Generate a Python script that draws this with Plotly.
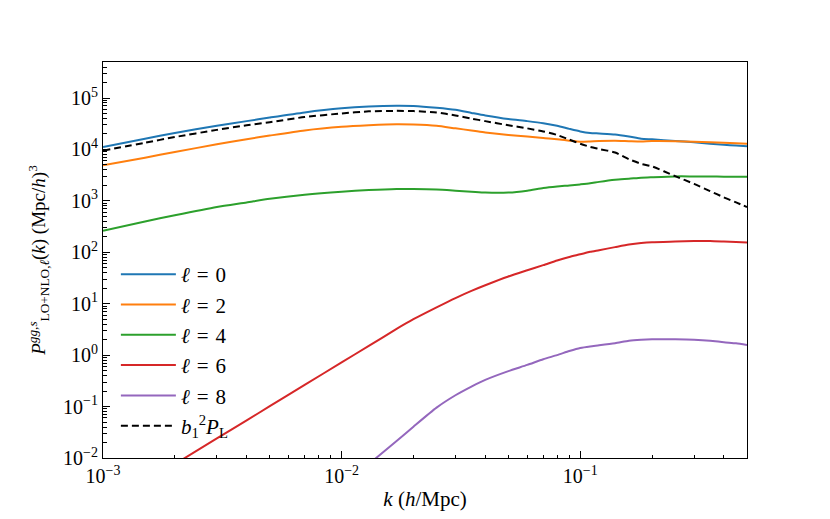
import plotly.graph_objects as go

# k values (h/Mpc)
k = [0.001, 0.0015, 0.002, 0.003, 0.004, 0.005, 0.007, 0.01, 0.013, 0.017,
     0.02, 0.025, 0.03, 0.035, 0.04, 0.05, 0.06, 0.07, 0.08, 0.09,
     0.1, 0.11, 0.12, 0.14, 0.16, 0.18, 0.2, 0.25, 0.3, 0.35,
     0.4, 0.45, 0.5]

# multipoles P_l(k), (Mpc/h)^3
p0 = [11200, 16200, 20900, 28800, 35500, 41700, 52500, 63100, 68400, 70800,
      70000, 64600, 58900, 51300, 45700, 38900, 35500, 32400, 28800, 25100,
      22400, 20900, 20400, 19500, 17800, 16200, 15700, 14600, 13800, 12900,
      12300, 11900, 11500]
p2 = [4900, 6920, 8910, 12600, 15800, 18600, 23400, 27500, 29500, 30900,
      30500, 28800, 25700, 23400, 21400, 19100, 17800, 16600, 15800, 14800,
      14100, 14300, 14600, 14800, 14500, 14300, 14600, 14500, 14100, 13800,
      13500, 13200, 12900]
p4 = [263, 398, 525, 759, 933, 1100, 1320, 1510, 1620, 1700,
      1700, 1660, 1580, 1510, 1450, 1450, 1580, 1780, 1910, 2000,
      2090, 2190, 2340, 2570, 2690, 2820, 2880, 2990, 2990, 2990,
      2950, 2950, 2950]
p6 = [None, None, 0.0076, 0.024, 0.0537, 0.102, 0.263, 0.724, 1.51, 3.24,
      5.0, 8.5, 12.9, 17.8, 22.9, 33.9, 44.7, 56.2, 69.2, 81.3,
      91.2, 102, 110, 126, 141, 151, 157, 162, 166, 166,
      162, 158, 155]
p8 = [None, None, None, None, None, None, None, None, 0.0076, 0.0214,
      0.0407, 0.0955, 0.166, 0.245, 0.331, 0.490, 0.646, 0.832, 1.00, 1.20,
      1.38, 1.48, 1.55, 1.70, 1.91, 2.00, 2.04, 2.04, 2.00, 1.91,
      1.78, 1.70, 1.58]
# linear power spectrum times b1^2
pl = [9440, 13500, 17400, 24000, 29500, 33900, 42700, 50100, 55000, 56200,
      55600, 52500, 45700, 39800, 35500, 29500, 25700, 22400, 19100, 15500,
      12900, 11200, 10200, 8710, 6460, 5250, 4680, 3020, 2140, 1550,
      1170, 933, 759]

series = [
    ("<i>ℓ</i>\u2004=\u20040", p0, "#1f77b4"),
    ("<i>ℓ</i>\u2004=\u20042", p2, "#ff7f0e"),
    ("<i>ℓ</i>\u2004=\u20044", p4, "#2ca02c"),
    ("<i>ℓ</i>\u2004=\u20046", p6, "#d62728"),
    ("<i>ℓ</i>\u2004=\u20048", p8, "#9467bd"),
]

x_ticks = [1e-3, 1e-2, 1e-1]
x_labels = ["10<sup>−3</sup>", "10<sup>−2</sup>", "10<sup>−1</sup>"]
y_ticks = [1e-2, 1e-1, 1e0, 1e1, 1e2, 1e3, 1e4, 1e5]
y_labels = ["10<sup>−2</sup>", "10<sup>−1</sup>", "10<sup>0</sup>", "10<sup>1</sup>",
            "10<sup>2</sup>", "10<sup>3</sup>", "10<sup>4</sup>", "10<sup>5</sup>"]

x_minor = [m * 10.0 ** e for e in (-3, -2, -1) for m in range(2, 10) if m * 10.0 ** e <= 0.5]
y_minor = [m * 10.0 ** e for e in range(-2, 6) for m in range(2, 10) if m * 10.0 ** e <= 5e5]

FONT = "Liberation Serif"

fig = go.Figure()
for name, vals, color in series:
    fig.add_trace(go.Scatter(
        x=k, y=vals, name=name, mode="lines",
        line=dict(color=color, width=2, shape="spline", smoothing=0.6),
    ))
fig.add_trace(go.Scatter(
    x=k, y=pl, name="<i>b</i><sub>1</sub><sup>2</sup><i>P</i><sub>L</sub>", mode="lines",
    line=dict(color="black", width=2, dash="7px,4px", shape="spline", smoothing=0.6),
))

axis_common = dict(
    type="log",
    showline=True, linecolor="black", linewidth=1, mirror=True,
    ticks="inside", ticklen=7, tickwidth=1, tickcolor="black",
    showgrid=False, zeroline=False,
    tickfont=dict(family=FONT, size=20, color="black"),
)
minor_common = dict(ticks="inside", ticklen=3.5, tickwidth=1, tickcolor="black", showgrid=False)

fig.update_xaxes(
    **axis_common,
    range=[-3, -0.301],
    tickvals=x_ticks, ticktext=x_labels,
    minor=dict(**minor_common, tickvals=x_minor),
    title=dict(text="<i>k</i> (<i>h</i>/Mpc)", font=dict(family=FONT, size=21, color="black"),
               standoff=5),
)
fig.update_yaxes(
    **axis_common,
    range=[-2, 5.7],
    tickvals=y_ticks, ticktext=y_labels,
    minor=dict(**minor_common, tickvals=y_minor),
    title=dict(text="<i>P</i><sup><i>gg,s</i></sup><sub>LO+NLO,<i>ℓ</i></sub>(<i>k</i>) (Mpc/<i>h</i>)<sup>3</sup>",
               font=dict(family=FONT, size=19, color="black"), standoff=12),
)

# page body adds an 8px offset, so the figure is a bit smaller than the window
fig.update_layout(
    width=822, height=511,
    margin=dict(l=95, r=83, t=54, b=57),
    paper_bgcolor="white", plot_bgcolor="white",
    font=dict(family=FONT, size=19, color="black"),
    legend=dict(
        x=0.02, y=0.515, xanchor="left", yanchor="top",
        bgcolor="rgba(255,255,255,0)", borderwidth=0,
        font=dict(family=FONT, size=21, color="black"),
        itemwidth=55,
        tracegroupgap=0,
    ),
    showlegend=True,
)

fig.write_html("out.html")
